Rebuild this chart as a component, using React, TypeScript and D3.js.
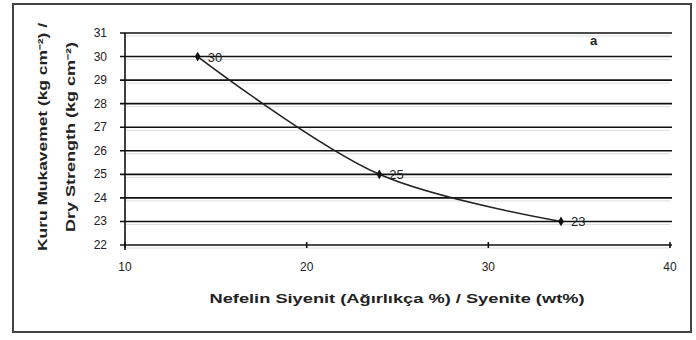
import React from "react";
import * as d3 from "d3";

const xValues = [14, 24, 34];
const yValues = [30, 25, 23];
const pointLabels = ["30", "25", "23"];
const xTicks = [10, 20, 30, 40];
const yTicks = [22, 23, 24, 25, 26, 27, 28, 29, 30, 31];
const yTitleLines = ["Kuru Mukavemet (kg cm\u207B\u00B2) /", "Dry Strength (kg cm\u207B\u00B2)"];
const xTitle = "Nefelin Siyenit (Ağırlıkça %) / Syenite (wt%)";
const panelLabel = "a";

export default function App() {
  const W = 696, H = 340;
  const x = d3.scaleLinear().domain([10, 40]).range([125, 670]);
  const y = d3.scaleLinear().domain([22, 31]).range([245, 33]);
  const line = d3
    .line<number>()
    .x((_, i) => x(xValues[i]))
    .y((d) => y(d))
    .curve(d3.curveCatmullRom.alpha(0.5));
  const font = "Arial, 'Liberation Sans', sans-serif";
  const yTitleX = [47, 75];
  const yTitleLen = [228, 190];
  return (
    <svg width={W} height={H} style={{ position: "absolute", left: 0, top: 0 }}>
      <rect x={0} y={0} width={W} height={H} fill="#fff" />
      <rect x={13} y={4} width={678} height={328} fill="none" stroke="#444" strokeWidth={2} />
      {yTicks.map((t) => (
        <g key={t}>
          <line x1={x(10) - 5} x2={x(40) + 2} y1={y(t)} y2={y(t)} stroke="#111" strokeWidth={1.6} />
          <line x1={x(10)} x2={x(40)} y1={y(t) + 3} y2={y(t) + 3} stroke="#ddd" strokeWidth={1} />
          <text x={x(10) - 18} y={y(t) + 4} fontSize={12} textAnchor="end" fontFamily={font} fill="#222">
            {t}
          </text>
        </g>
      ))}
      <line x1={x(10)} x2={x(10)} y1={y(31)} y2={y(22) + 5} stroke="#111" strokeWidth={1.6} />
      {xTicks.map((t) => (
        <g key={t}>
          <line x1={x(t)} x2={x(t)} y1={y(22) - 3} y2={y(22) + 3} stroke="#111" strokeWidth={1.6} />
          <text x={x(t)} y={y(22) + 26} fontSize={12} textAnchor="middle" fontFamily={font} fill="#222">
            {t}
          </text>
        </g>
      ))}
      <path d={line(yValues) || ""} fill="none" stroke="#222" strokeWidth={1.6} />
      {yValues.map((v, i) => (
        <g key={i}>
          <path
            d={d3.symbol(d3.symbolDiamond, 28)() || ""}
            transform={`translate(${x(xValues[i])},${y(v)})`}
            fill="#111"
          />
          <text x={x(xValues[i]) + 10} y={y(v) + 5} fontSize={13} fontFamily={font} fill="#222">
            {pointLabels[i]}
          </text>
        </g>
      ))}
      <text x={590} y={45} fontSize={13} fontWeight="bold" fontFamily={font} fill="#222">
        {panelLabel}
      </text>
      {yTitleLines.map((s, i) => (
        <text
          key={i}
          transform={`translate(${yTitleX[i]},${137}) rotate(-90)`}
          fontSize={12}
          fontWeight="bold"
          textAnchor="middle"
          fontFamily={font}
          fill="#222"
          textLength={yTitleLen[i]}
          lengthAdjust="spacingAndGlyphs"
        >
          {s}
        </text>
      ))}
      <text
        x={397}
        y={303}
        fontSize={13}
        fontWeight="bold"
        textAnchor="middle"
        fontFamily={font}
        fill="#222"
        textLength={375}
        lengthAdjust="spacingAndGlyphs"
      >
        {xTitle}
      </text>
    </svg>
  );
}
